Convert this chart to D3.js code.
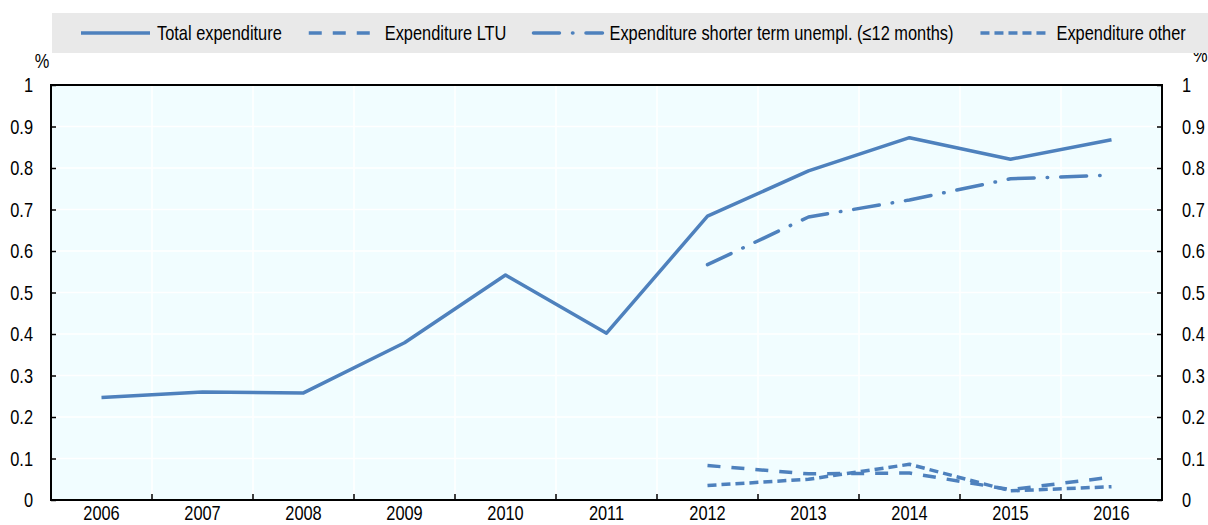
<!DOCTYPE html>
<html>
<head>
<meta charset="utf-8">
<script src="https://cdn.jsdelivr.net/npm/d3@7"></script>
<style>
  body { margin: 0; background: #fff; }
  text { font-family: "Liberation Sans Narrow", "Arial Narrow", "Liberation Sans", Arial, sans-serif; fill: #000; }
</style>
</head>
<body>
<div id="chart"></div>
<script>
// chart values
var years = ["2006", "2007", "2008", "2009", "2010", "2011", "2012", "2013", "2014", "2015", "2016"];
var totalExp = [0.247, 0.260, 0.258, 0.379, 0.542, 0.402, 0.684, 0.793, 0.873, 0.821, 0.868];
var ltuExp = [null, null, null, null, null, null, 0.083, 0.063, 0.065, 0.025, 0.055];
var shortExp = [null, null, null, null, null, null, 0.567, 0.682, 0.723, 0.774, 0.783];
var otherExp = [null, null, null, null, null, null, 0.035, 0.050, 0.086, 0.022, 0.032];
var yTicks = [0, 0.1, 0.2, 0.3, 0.4, 0.5, 0.6, 0.7, 0.8, 0.9, 1];

var series = [
    {name: "Total expenditure", values: totalExp, dash: null, cap: "butt"},
    {name: "Expenditure LTU", values: ltuExp, dash: "13,11", cap: "butt"},
    {name: "Expenditure shorter term unempl. (\u226412 months)", values: shortExp, dash: "26,13,0.5,13", cap: "round"},
    {name: "Expenditure other", values: otherExp, dash: "9,5", cap: "butt"}
];

var W = 1208, H = 525;
var plot = {left: 51, right: 1162, top: 85, bottom: 500};
var lineColor = "#4e81bd";
var fontSize = 20;
var squeeze = 0.82; // no narrow font here, so squeeze the regular one

var svg = d3.select("#chart").append("svg")
    .attr("width", W)
    .attr("height", H);

// draws a horizontally condensed text label
function label(parent, tx, ty, str, anchor) {
    return parent.append("text")
        .attr("transform", "translate(" + tx + "," + ty + ") scale(" + squeeze + ",1)")
        .attr("text-anchor", anchor || "start")
        .attr("font-size", fontSize)
        .text(str);
}

var x = d3.scaleBand()
    .domain(years)
    .range([plot.left, plot.right])
    .padding(0);

var y = d3.scaleLinear()
    .domain([0, 1])
    .range([plot.bottom, plot.top]);

var fmt = function(d) { return d === 0 || d === 1 ? d3.format("d")(d) : d3.format(".1f")(d); };

// plot background
svg.append("rect")
    .attr("x", plot.left)
    .attr("y", plot.top)
    .attr("width", plot.right - plot.left)
    .attr("height", plot.bottom - plot.top)
    .attr("fill", "#f1fdff");

// grid lines (white)
svg.append("g").selectAll("line")
    .data(yTicks.slice(1, -1))
    .enter().append("line")
        .attr("x1", plot.left).attr("x2", plot.right)
        .attr("y1", function(d) { return y(d); })
        .attr("y2", function(d) { return y(d); })
        .attr("stroke", "#ffffff")
        .attr("stroke-width", 1.5);

svg.append("g").selectAll("line")
    .data(years.slice(1))
    .enter().append("line")
        .attr("x1", function(d) { return x(d); })
        .attr("x2", function(d) { return x(d); })
        .attr("y1", plot.top).attr("y2", plot.bottom)
        .attr("stroke", "#ffffff")
        .attr("stroke-width", 1.5);

// y axes: ticks from d3, labels drawn condensed
var leftAxis = d3.axisLeft(y).tickValues(yTicks).tickSizeInner(-5).tickSizeOuter(0).tickFormat("");
var rightAxis = d3.axisRight(y).tickValues(yTicks).tickSizeInner(-5).tickSizeOuter(0).tickFormat("");

var gl = svg.append("g").attr("transform", "translate(" + plot.left + ",0)").call(leftAxis);
var gr = svg.append("g").attr("transform", "translate(" + plot.right + ",0)").call(rightAxis);
[gl, gr].forEach(function(g) {
    g.select(".domain").remove();
    g.selectAll(".tick line").attr("stroke", "#000").attr("stroke-width", 1.5);
    g.selectAll(".tick text").remove();
});

var yLabels = svg.append("g");
yTicks.forEach(function(t) {
    label(yLabels, 33, y(t) + 7, fmt(t), "end");
    label(yLabels, 1182, y(t) + 7, fmt(t), "start");
});

// bottom ticks at category boundaries, pointing up
svg.append("g").selectAll("line")
    .data(years.slice(1))
    .enter().append("line")
        .attr("x1", function(d) { return x(d); })
        .attr("x2", function(d) { return x(d); })
        .attr("y1", plot.bottom).attr("y2", plot.bottom - 6)
        .attr("stroke", "#000")
        .attr("stroke-width", 1.5);

var xLabels = svg.append("g");
years.forEach(function(yr) {
    label(xLabels, x(yr) + x.bandwidth() / 2, 520, yr, "middle");
});

// frame
svg.append("rect")
    .attr("x", plot.left)
    .attr("y", plot.top)
    .attr("width", plot.right - plot.left)
    .attr("height", plot.bottom - plot.top)
    .attr("fill", "none")
    .attr("stroke", "#000")
    .attr("stroke-width", 2);

// unit labels
label(svg, 42, 68, "%", "middle");
label(svg, 1193, 62, "%", "start");

// lines
var line = d3.line()
    .defined(function(d) { return d.v !== null; })
    .x(function(d) { return x(d.year) + x.bandwidth() / 2; })
    .y(function(d) { return y(d.v); });

series.forEach(function(s) {
    var pts = years.map(function(yr, i) { return {year: yr, v: s.values[i]}; });
    svg.append("path")
        .datum(pts)
        .attr("d", line)
        .attr("fill", "none")
        .attr("stroke", lineColor)
        .attr("stroke-width", 3.5)
        .attr("stroke-linecap", s.cap)
        .attr("stroke-linejoin", "round")
        .attr("stroke-dasharray", s.dash);
});

// legend
svg.append("rect")
    .attr("x", 52)
    .attr("y", 13)
    .attr("width", W - 52)
    .attr("height", 40)
    .attr("fill", "#e9e9e9");

var legend = svg.append("g");
var lx = 81;
series.forEach(function(s) {
    legend.append("line")
        .attr("x1", lx).attr("x2", lx + 69)
        .attr("y1", 33).attr("y2", 33)
        .attr("stroke", lineColor)
        .attr("stroke-width", 3.5)
        .attr("stroke-linecap", s.cap)
        .attr("stroke-dasharray", s.dash);
    var t = label(legend, lx + 76, 40, s.name, "start");
    lx = lx + 76 + t.node().getComputedTextLength() * squeeze + 27;
});
</script>
</body>
</html>
